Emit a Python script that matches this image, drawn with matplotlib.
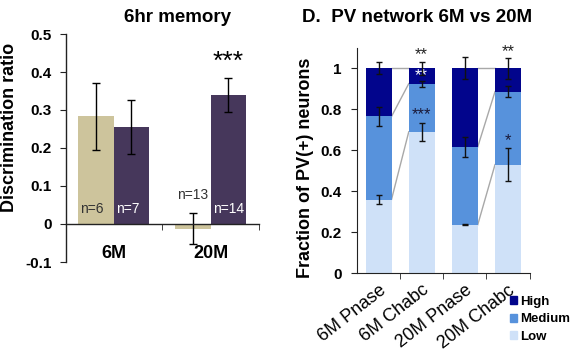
import matplotlib
matplotlib.use('Agg')
import matplotlib.pyplot as plt
import numpy as np
from matplotlib.patches import Patch

plt.rcParams['font.family'] = ['Liberation Sans', 'DejaVu Sans']

# ---------------- Left panel data ----------------
ages = ['6M', '20M']
disc_beige = [0.283, -0.012]
disc_purple = [0.255, 0.340]
err_beige = [0.088, 0.040]
err_purple = [0.070, 0.045]
n_beige = ['n=6', 'n=13']
n_purple = ['n=7', 'n=14']
left_yticks = [-0.1, 0, 0.1, 0.2, 0.3, 0.4, 0.5]
left_yticklabels = ['-0.1', '0', '0.1', '0.2', '0.3', '0.4', '0.5']

# ---------------- Right panel data ----------------
conds = ['6M Pnase', '6M Chabc', '20M Pnase', '20M Chabc']
frac_low = [0.36, 0.69, 0.237, 0.53]
frac_med = [0.405, 0.235, 0.38, 0.356]
frac_high = [0.235, 0.075, 0.383, 0.114]
err_low = [0.02, 0.045, 0.003, 0.08]
err_med = [0.045, 0.015, 0.05, 0.027]
err_high = [0.03, 0.032, 0.053, 0.05]
levels = ['High', 'Medium', 'Low']
right_yticks = [0, 0.2, 0.4, 0.6, 0.8, 1.0]
right_yticklabels = ['0', '0.2', '0.4', '0.6', '0.8', '1']

beige = '#cdc49c'
purple = '#46375b'
c_high = '#02058c'
c_med = '#5792dc'
c_low = '#cfe1f8'

W, H = 573, 351
fig = plt.figure(figsize=(W / 100, H / 100), dpi=100)

# ================= Left panel =================
ax1 = fig.add_axes([66 / W, 1 - 262 / H, 193 / W, 228 / H])
x = np.arange(len(ages))
w = 0.37
ekw = dict(ecolor='black', elinewidth=1, capsize=3, capthick=1)
ax1.bar(x - w / 2, disc_beige, w, color=beige, yerr=err_beige, error_kw=ekw, zorder=2)
ax1.bar(x + w / 2, disc_purple, w, color=purple, yerr=err_purple, error_kw=ekw, zorder=2)
ax1.set_xlim(-0.49, 1.49)
ax1.set_ylim(-0.1, 0.5)
for s in ['top', 'right']:
    ax1.spines[s].set_visible(False)
ax1.spines['bottom'].set_position(('data', 0))
for s in ['bottom', 'left']:
    ax1.spines[s].set_color('#222222')
    ax1.spines[s].set_linewidth(1)
ax1.set_xticks(x)
ax1.set_xticklabels(ages, fontsize=13, fontweight='bold')
ax1.set_xticks([0.5, 1.5], minor=True)
ax1.tick_params(axis='x', which='major', length=0, pad=15)
ax1.tick_params(axis='x', which='minor', length=4, direction='out', color='#222222')
ax1.set_yticks(left_yticks)
ax1.set_yticklabels(left_yticklabels, fontsize=11, fontweight='bold')
ax1.tick_params(axis='y', length=4, direction='out', pad=6, color='#222222')

# n labels
n_y_beige = [0.04, 0.077]
n_y_purple = [0.04, 0.04]
for i in range(len(ages)):
    off = -0.04 if i == 0 else 0.0
    ax1.text(x[i] - w / 2 + off, n_y_beige[i], n_beige[i], ha='center', va='center',
             fontsize=10, color='#333333')
    ax1.text(x[i] + w / 2 + off, n_y_purple[i], n_purple[i], ha='center', va='center',
             fontsize=10, color='white')
ax1.text(x[1] + w / 2, 0.428, '***', ha='center', va='center', fontsize=19, color='black')

fig.text(178 / W, 1 - 18 / H, '6hr memory', ha='center', va='center', fontsize=13.5,
         fontweight='bold')
fig.text(10 / W, 1 - 127 / H, 'Discrimination ratio', ha='center', va='center',
         rotation=90, fontsize=13, fontweight='bold')

# ================= Right panel =================
ax2 = fig.add_axes([357 / W, 1 - 273.3 / H, 172.5 / W, 225.5 / H])
xr = np.arange(len(conds))
bw = 0.6
low = np.array(frac_low)
med = np.array(frac_med)
high = np.array(frac_high)
ax2.bar(xr, low, bw, color=c_low, label='Low', zorder=2)
ax2.bar(xr, med, bw, bottom=low, color=c_med, label='Medium', zorder=2)
ax2.bar(xr, high, bw, bottom=low + med, color=c_high, label='High', zorder=2)

tops = [low, low + med, low + med + high]
errs = [err_low, err_med, err_high]
for t, e in zip(tops, errs):
    ax2.errorbar(xr, t, yerr=e, fmt='none', ecolor='#111111', elinewidth=1,
                 capsize=2.5, capthick=1, zorder=4)

# series connector lines
for a, b in [(0, 1), (2, 3)]:
    for t in tops:
        ax2.plot([xr[a] + bw / 2, xr[b] - bw / 2], [t[a], t[b]], color='#a8a8a8', lw=1,
                 zorder=1)

ax2.set_xlim(-0.5, 3.5)
ax2.set_ylim(0, 1.1)
for s in ['top', 'right']:
    ax2.spines[s].set_visible(False)
for s in ['bottom', 'left']:
    ax2.spines[s].set_color('#222222')
ax2.set_xticks(xr)
ax2.set_xticklabels(conds, rotation=38, ha='right', rotation_mode='anchor', fontsize=13)
ax2.set_xticks([0.5, 1.5, 2.5, 3.5], minor=True)
ax2.tick_params(axis='x', which='major', length=0, pad=6)
ax2.tick_params(axis='x', which='minor', length=4, direction='out', color='#222222')
ax2.set_yticks(right_yticks)
ax2.set_yticklabels(right_yticklabels, fontsize=11, fontweight='bold')
ax2.tick_params(axis='y', length=4, direction='out', pad=7, color='#222222')

# significance stars
ax2.text(xr[1], 1.065, '**', ha='center', va='center', fontsize=12, color='#222222')
ax2.text(xr[1], 0.962, '**', ha='center', va='center', fontsize=12, color='white')
ax2.text(xr[1], 0.775, '***', ha='center', va='center', fontsize=12, color='#1a1a3a')
ax2.text(xr[3], 1.08, '**', ha='center', va='center', fontsize=12, color='#222222')
ax2.text(xr[3], 0.645, '*', ha='center', va='center', fontsize=12, color='#1a1a3a')

fig.text(417 / W, 1 - 18 / H, 'D.  PV network 6M vs 20M', ha='center', va='center',
         fontsize=13.5, fontweight='bold')
fig.text(305 / W, 1 - 168 / H, 'Fraction of PV(+) neurons', ha='center', va='center',
         rotation=90, fontsize=13, fontweight='bold')

handles = [Patch(color=c_high), Patch(color=c_med), Patch(color=c_low)]
fig.legend(handles, levels, loc='upper left', bbox_to_anchor=(510 / W, 1 - 296 / H),
           frameon=False, handlelength=0.55, handleheight=0.55, handletextpad=0.25,
           labelspacing=0.4, borderpad=0, borderaxespad=0,
           prop=dict(size=9.5, weight='bold'))

fig.savefig('out.png', dpi=100)
